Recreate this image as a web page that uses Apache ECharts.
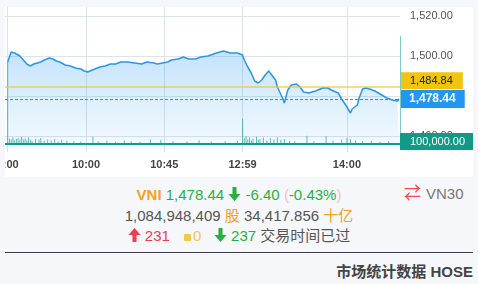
<!DOCTYPE html>
<html>
<head>
<meta charset="utf-8">
<script src="https://cdn.jsdelivr.net/npm/echarts@6/dist/echarts.min.js"></script>
<style>
  html, body { margin: 0; padding: 0; }
  body { width: 478px; height: 284px; background: #f5f7fa; position: relative; overflow: hidden;
         font-family: "Liberation Sans", Arial, "Noto Sans CJK SC", sans-serif; }
  #chart { position: absolute; left: 5px; top: 7px; width: 468px; height: 170px; background: #ffffff; }
  .info { position: absolute; left: 0; width: 478px; text-align: center; font-size: 15px; line-height: 20.5px; top: 185px; color: #555; white-space: nowrap; }
  .or { color: #f7a01a; }
  .gr { color: #23b33c; }
  .rd { color: #f43b47; }
  .yl { color: #f4c84a; }
  .pk { color: #f7b9cf; }
  .sq { display: inline-block; width: 7px; height: 7px; background: #f4c84a; border-radius: 1px; margin: 0 2px 0 10px; vertical-align: 0px; }
  svg.ar { vertical-align: -1px; }
  #vn30 { position: absolute; left: 404px; top: 184px; font-size: 15px; line-height: 20px; color: #777; white-space: nowrap; }
  #vn30 .sw { color: #f44a4a; font-size: 17px; margin-right: 5px; }
  #hr { position: absolute; left: 5px; top: 252px; width: 468px; height: 1px; background: #3d3d4d; }
  #foot { position: absolute; right: 5px; top: 262px; font-size: 15px; line-height: 20px; font-weight: bold; color: #444; white-space: nowrap; }
</style>
</head>
<body>
<div id="chart"></div>
<div class="info">
  <div><b class="or">VNI</b> <span class="gr">1,478.44</span> <svg class="ar" width="13" height="14" viewBox="0 0 13 14"><path d="M4.5 0h4v7h4L6.5 14 0.5 7h4z" fill="#23b33c"/></svg> <span class="gr">-6.40</span> <span class="pk">(</span><span class="gr">-0.43%</span><span class="pk">)</span></div>
  <div>1,084,948,409 <span class="or">股</span> 34,417.856 <span class="or">十亿</span></div>
  <div><svg class="ar" width="13" height="14" viewBox="0 0 13 14"><path d="M4.5 14h4V7h4L6.5 0 0.5 7h4z" fill="#f43b47"/></svg> <span class="rd">231</span> <span class="sq"></span><span class="yl">0</span> &nbsp; <svg class="ar" width="13" height="14" viewBox="0 0 13 14"><path d="M4.5 0h4v7h4L6.5 14 0.5 7h4z" fill="#23b33c"/></svg> <span class="gr">237</span> 交易时间已过</div>
</div>
<div id="vn30"><span class="sw">⇄</span>VN30</div>
<div id="hr"></div>
<div id="foot">市场统计数据 HOSE</div>
<script>
// ---- data ----
const priceTimes = ["09:15","09:16","09:17","09:19","09:20","09:22","09:24","09:26","09:28","09:30","09:32","09:34","09:36","09:39","09:41","09:43","09:45","09:48","09:51","09:54","09:57","09:59","10:01","10:02","10:05","10:08","10:11","10:14","10:17","10:20","10:24","10:28","10:32","10:35","10:39","10:41","10:44","10:47","10:49","10:53","10:56","10:59","11:03","11:06","11:10","11:15","11:19","11:23","11:27","11:30","13:01","13:03","13:05","13:07","13:09","13:11","13:13","13:15","13:16","13:19","13:20","13:23","13:24","13:26","13:28","13:31","13:33","13:35","13:38","13:42","13:46","13:49","13:51","13:55","13:57","14:00","14:02","14:03","14:06","14:07","14:09","14:11","14:13","14:16","14:20","14:23","14:26","14:29","14:30"];
const priceValues = [1497,1499.5,1502,1501.5,1500.5,1500,1498,1496,1495,1496,1496.5,1497,1498,1499,1498.5,1497.5,1497,1495.5,1495,1494,1493.5,1492.5,1492,1492.5,1493.5,1494.5,1495,1496,1496,1497,1497,1496.5,1496,1497,1496.5,1496,1496.5,1497,1498,1498.5,1499.5,1498.5,1498.5,1499.5,1500,1501.5,1502.5,1501.5,1501.5,1500.5,1498,1494.5,1491.5,1487.5,1486.5,1488,1490.5,1492.5,1491.5,1488,1484.5,1479,1476.5,1483,1485.5,1486,1484.5,1482,1481.5,1482.5,1484,1484,1483,1481.5,1478.5,1474.5,1471.5,1473.5,1475.5,1479,1483.5,1484,1483.5,1482.5,1480.5,1479,1478,1477.5,1478.44];
const volumeTimes = ["09:15","09:16","09:17","09:18","09:19","09:20","09:21","09:22","09:23","09:24","09:25","09:26","09:27","09:28","09:29","09:31","09:33","09:34","09:36","09:38","09:40","09:42","09:44","09:46","09:49","09:53","09:57","10:04","10:07","10:12","10:17","10:22","10:26","10:31","10:37","10:43","10:50","10:58","11:05","11:12","11:20","11:27","13:00","13:01","13:02","13:03","13:04","13:05","13:06","13:08","13:09","13:10","13:12","13:14","13:16","13:18","13:20","13:22","13:24","13:27","13:30","13:37","13:41","13:48","13:52","13:57","14:00","14:02","14:05","14:09","14:14","14:19","14:24","14:30"];
const volumeValues = [17900000,1100000,900000,1300000,700000,1000000,1200000,800000,1500000,900000,1100000,700000,1300000,900000,600000,1000000,800000,1200000,600000,900000,700000,1000000,500000,800000,600000,500000,400000,1500000,500000,600000,400000,700000,500000,400000,900000,800000,500000,400000,700000,400000,500000,600000,5500000,1200000,1600000,900000,1400000,700000,1100000,1500000,800000,1000000,1300000,700000,1200000,900000,1400000,800000,1000000,600000,500000,1700000,500000,1600000,600000,900000,1200000,1000000,700000,500000,600000,400000,500000,100000];
const xTickTimes = ["09:15","10:00","10:45","13:00","14:00"];
const xTickLabels = ["9:00","10:00","10:45","12:59","14:00"];
const yTickValues = [1460,1480,1500,1520];
const prevClose = 1484.84;
const lastPrice = 1478.44;
const lastVolume = 100000;

// ---- helpers ----
function sessionMinute(t) {
  const [h, m] = t.split(":").map(Number);
  const v = h * 60 + m;
  return v <= 11 * 60 + 30 ? v - (9 * 60 + 15) : 135 + (v - 13 * 60);
}
function fmt(v) {
  return Number(v).toLocaleString("en-US", { minimumFractionDigits: 2, maximumFractionDigits: 2 });
}
const priceData = priceTimes.map((t, i) => [sessionMinute(t), priceValues[i]]);
const volumeData = volumeTimes.map((t, i) => [sessionMinute(t), volumeValues[i]]);
const xTicks = xTickTimes.map(sessionMinute);
const xLabelMap = {};
xTicks.forEach((m, i) => { xLabelMap[m] = xTickLabels[i]; });

const X_MIN = -1.55, X_MAX = 225.5;
const gridColor = "#dde3e8";

const chart = echarts.init(document.getElementById("chart"), null, { renderer: "canvas" });
chart.setOption({
  animation: false,
  grid: [
    { left: 0, right: 73, top: 0, bottom: 27, containLabel: false, outerBoundsMode: "none" },
    { left: 0, right: 73, top: 0, bottom: 33.5, containLabel: false, outerBoundsMode: "none" }
  ],
  xAxis: [
    {
      type: "value", gridIndex: 0, min: X_MIN, max: X_MAX,
      axisLine: { show: false },
      axisTick: { show: true, length: 2, customValues: xTicks, lineStyle: { color: gridColor } },
      axisLabel: { customValues: xTicks, margin: 9, fontSize: 11, fontWeight: "bold", color: "#444",
                   fontFamily: "Liberation Sans, Arial, sans-serif",
                   formatter: v => xLabelMap[v] !== undefined ? xLabelMap[v] : "" },
      splitLine: { show: true, lineStyle: { color: gridColor, width: 1 } }
    },
    {
      type: "value", gridIndex: 1, min: X_MIN, max: X_MAX,
      axisLine: { show: true, lineStyle: { color: "#119a87", width: 2 } },
      axisTick: { show: false }, axisLabel: { show: false }, splitLine: { show: false }
    }
  ],
  yAxis: [
    {
      type: "value", gridIndex: 0, position: "right", min: 1453, max: 1524.5,
      axisLine: { show: false },
      axisTick: { show: false, customValues: yTickValues },
      axisLabel: { customValues: yTickValues, margin: 10, fontSize: 11, color: "#555",
                   fontFamily: "Liberation Sans, Arial, sans-serif", formatter: v => fmt(v) },
      splitLine: { show: true, lineStyle: { color: gridColor, width: 1 } }
    },
    {
      type: "value", gridIndex: 1, min: 0, max: 30000000, show: false
    }
  ],
  series: [
    {
      type: "bar", xAxisIndex: 1, yAxisIndex: 1, data: volumeData, barWidth: 1, z: 1,
      itemStyle: { color: "rgba(17,154,135,0.65)" }, silent: true
    },
    {
      type: "line", xAxisIndex: 0, yAxisIndex: 0, data: priceData, z: 3,
      showSymbol: false, symbol: "none",
      lineStyle: { color: "#2b95ea", width: 1.5 },
      areaStyle: {
        color: new echarts.graphic.LinearGradient(0, 0, 0, 1, [
          { offset: 0, color: "rgba(33,150,243,0.38)" },
          { offset: 1, color: "rgba(33,150,243,0.06)" }
        ])
      },
      markLine: {
        silent: true, symbol: "none", precision: 2,
        data: [
          {
            yAxis: prevClose,
            lineStyle: { color: "rgba(240,196,25,0.55)", width: 2, type: "solid" },
            label: {
              position: "end", distance: 1, offset: [0, -5.5],
              formatter: () => fmt(prevClose),
              backgroundColor: "#f2c30f", color: "#222", fontSize: 11,
              fontFamily: "Liberation Sans, Arial, sans-serif",
              padding: [2, 10, 2, 9], lineHeight: 13
            }
          },
          {
            yAxis: lastPrice,
            lineStyle: { color: "#2196f3", width: 1.2, type: [3, 2] },
            label: {
              position: "end", distance: 1,
              formatter: () => fmt(lastPrice),
              backgroundColor: "#2196f3", color: "#fff", fontSize: 12, fontWeight: "bold",
              fontFamily: "Liberation Sans, Arial, sans-serif",
              padding: [3, 9, 2, 8], lineHeight: 13
            }
          },
          [
            { coord: [X_MAX, 1510], lineStyle: { color: "#7fcbc2", width: 1, type: "solid" }, label: { show: false } },
            { coord: [X_MAX, 1453] }
          ]
        ]
      }
    },
    {
      type: "line", xAxisIndex: 1, yAxisIndex: 1, data: [], z: 5, silent: true,
      markLine: {
        silent: true, symbol: "none",
        lineStyle: { color: "rgba(0,0,0,0)", width: 1 },
        label: {
          position: "end", distance: 0, offset: [0, -1.5],
          formatter: () => fmt(lastVolume),
          backgroundColor: "#119a87", color: "#fff", fontSize: 11,
          fontFamily: "Liberation Sans, Arial, sans-serif",
          padding: [3, 9, 2, 10], lineHeight: 12
        },
        data: [{ yAxis: lastVolume }]
      }
    }
  ]
});
</script>
</body>
</html>
